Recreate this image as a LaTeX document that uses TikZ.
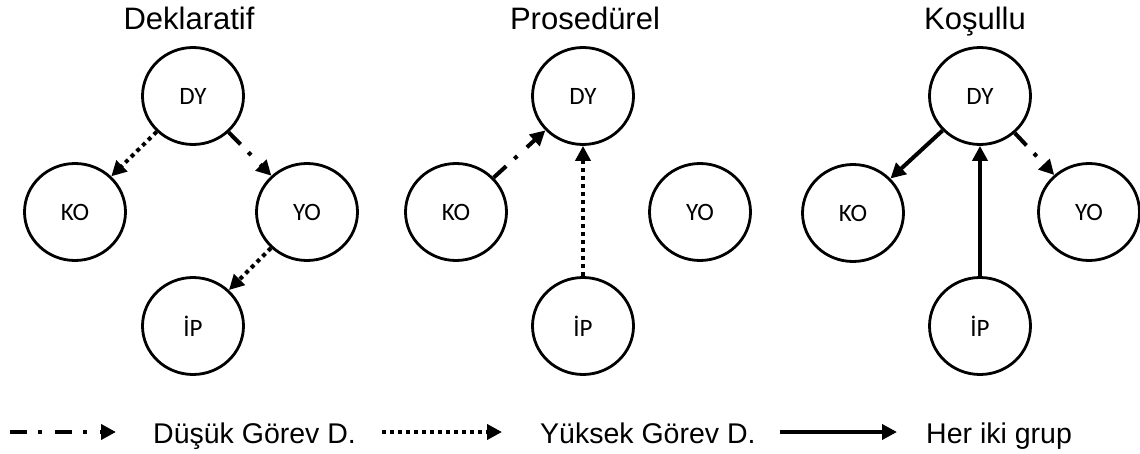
\documentclass[tikz,border=0pt]{standalone}
\usepackage{fontspec}
\setmainfont{Liberation Sans}
\newfontfamily\nodefont{Carlito}
\usetikzlibrary{arrows.meta,shapes.geometric}

\begin{document}
\begin{tikzpicture}[x=1pt,y=-1pt,
  state/.style={ellipse, draw, line width=2.8pt, minimum width=101pt,
    minimum height=97pt, inner sep=0pt,
    font=\nodefont\fontsize{25}{30}\selectfont},
  paneltitle/.style={font=\fontsize{31}{37}\selectfont, anchor=base, inner sep=0pt},
  legtext/.style={font=\fontsize{28.5}{34}\selectfont, anchor=base west, inner sep=0pt},
  link/.style={line width=4pt, -{Triangle[length=15pt,width=15pt]}},
  lowtask/.style={link, dash pattern=on 17pt off 11pt on 4pt off 13pt},
  hightask/.style={link, dash pattern=on 4pt off 4pt},
  bothgroups/.style={link},
]
\useasboundingbox (0,0) rectangle (1140,454);

% panel titles
\node[paneltitle] (tA) at (189,30) {Deklaratif};
\node[paneltitle] (tB) at (585,30) {Prosedürel};
\node[paneltitle] (tC) at (975,30) {Koşullu};

% Deklaratif
\node[state] (aDY) at (193,96)  {DY};
\node[state] (aKO) at (75,212)  {KO};
\node[state] (aYO) at (307,212) {YO};
\node[state] (aIP) at (193,326) {İP};
\draw[hightask] (aDY) -- (aKO);
\draw[lowtask]  (aDY) -- (aYO);
\draw[hightask] (aYO) -- (aIP);

% Prosedürel
\node[state] (bDY) at (583,96)  {DY};
\node[state] (bKO) at (456,212) {KO};
\node[state] (bYO) at (700,212) {YO};
\node[state] (bIP) at (583,326) {İP};
\draw[lowtask]  (bKO) -- (bDY);
\draw[hightask] (bIP) -- (bDY);

% Koşullu
\node[state] (cDY) at (980,96)   {DY};
\node[state] (cKO) at (853,213)  {KO};
\node[state] (cYO) at (1089,212) {YO};
\node[state] (cIP) at (980,326)  {İP};
\draw[bothgroups] (cDY) -- (cKO);
\draw[bothgroups] (cIP) -- (cDY);
\draw[lowtask]    (cDY) -- (cYO);

% legend
\coordinate (l1s) at (10,432);
\coordinate (l1e) at (116,432);
\node[legtext] (l1t) at (153,443) {Düşük Görev D.};
\coordinate (l2s) at (382,432);
\coordinate (l2e) at (502,432);
\node[legtext] (l2t) at (540,443) {Yüksek Görev D.};
\coordinate (l3s) at (780,432);
\coordinate (l3e) at (897,432);
\node[legtext] (l3t) at (926,443) {Her iki grup};
\draw[lowtask]    (l1s) -- (l1e);
\draw[hightask]   (l2s) -- (l2e);
\draw[bothgroups] (l3s) -- (l3e);
\end{tikzpicture}
\end{document}
